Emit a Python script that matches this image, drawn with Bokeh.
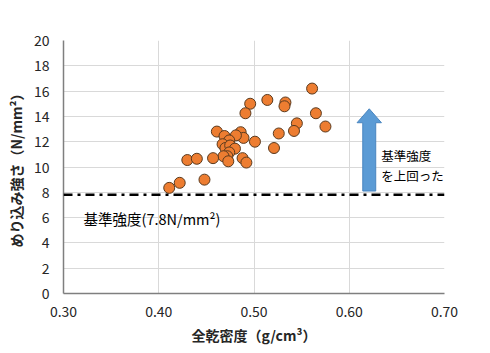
from bokeh.plotting import figure
from bokeh.models import FixedTicker, Range1d, Span, Label
from bokeh.embed import file_html
from bokeh.resources import INLINE

# data
density = [0.561, 0.514, 0.533, 0.532, 0.496, 0.491, 0.565, 0.545, 0.542, 0.575,
           0.526, 0.521, 0.501, 0.461, 0.469, 0.486, 0.489, 0.481, 0.474, 0.467,
           0.470, 0.475, 0.480, 0.474, 0.472, 0.468, 0.473, 0.457, 0.488, 0.492,
           0.430, 0.440, 0.448, 0.422, 0.411]
strength = [16.2, 15.3, 15.1, 14.8, 15.0, 14.25, 14.25, 13.45, 12.85, 13.2,
            12.65, 11.5, 12.0, 12.8, 12.45, 12.75, 12.3, 12.5, 12.1, 11.8,
            11.5, 11.7, 11.45, 11.15, 10.85, 10.85, 10.45, 10.7, 10.7, 10.35,
            10.55, 10.65, 9.0, 8.75, 8.35]
x_ticks = [0.30, 0.40, 0.50, 0.60, 0.70]
x_tick_labels = ["0.30", "0.40", "0.50", "0.60", "0.70"]
y_ticks = [0, 2, 4, 6, 8, 10, 12, 14, 16, 18, 20]
standard_strength = 7.8
standard_label = "基準強度(7.8N/mm²)"
arrow_label_lines = ["基準強度", "を上回った"]

# annotation geometry (data units)
arrow_x = 0.621
arrow_bottom = 8.1
arrow_top = 14.6
arrow_head_base = 13.5
arrow_half_shaft = 0.0068
arrow_half_head = 0.0128

FONT = "Noto Sans CJK JP"

p = figure(width=490, height=353, output_backend="svg", toolbar_location=None,
           x_range=Range1d(0.30, 0.70), y_range=Range1d(0, 20),
           min_border_left=63, min_border_right=46, min_border_top=40,
           min_border_bottom=60)
p.outline_line_color = None
p.background_fill_color = "white"
p.border_fill_color = "white"

p.xaxis.ticker = FixedTicker(ticks=x_ticks)
p.xaxis.major_label_overrides = {t: l for t, l in zip(x_ticks, x_tick_labels)}
p.yaxis.ticker = FixedTicker(ticks=y_ticks)
p.xgrid.ticker = FixedTicker(ticks=x_ticks)
p.ygrid.ticker = FixedTicker(ticks=y_ticks)

for ax in (p.xaxis, p.yaxis):
    ax.axis_line_color = "#7f7f7f"
    ax.axis_line_width = 1.5
    ax.major_tick_line_color = None
    ax.minor_tick_line_color = None
    ax.major_label_text_font = FONT
    ax.major_label_text_font_size = "14px"
    ax.major_label_text_color = "#262626"
    ax.axis_label_text_font = FONT
    ax.axis_label_text_font_size = "14px"
    ax.axis_label_text_font_style = "bold"
    ax.axis_label_text_color = "#262626"

p.xaxis.axis_label = "全乾密度（g/cm³）"
p.yaxis.axis_label = "めり込み強さ（N/mm²）"
p.xaxis.major_label_standoff = 6
p.yaxis.major_label_standoff = 8
p.xaxis.axis_label_standoff = 5
p.yaxis.axis_label_standoff = 5

p.xgrid.grid_line_color = "#d9d9d9"
p.ygrid.grid_line_color = "#d9d9d9"
p.xgrid.grid_line_width = 1
p.ygrid.grid_line_width = 1

# standard strength line
p.add_layout(Span(location=standard_strength, dimension="width",
                  line_color="black", line_width=2.5, line_dash="9 5 3 5"))

p.scatter(density, strength, size=11, fill_color="#ed7d31",
          line_color="#5a3a1e", line_width=1)

# block arrow
ax_pts = [arrow_x - arrow_half_shaft, arrow_x + arrow_half_shaft,
          arrow_x + arrow_half_shaft, arrow_x + arrow_half_head, arrow_x,
          arrow_x - arrow_half_head, arrow_x - arrow_half_shaft]
ay_pts = [arrow_bottom, arrow_bottom, arrow_head_base, arrow_head_base,
          arrow_top, arrow_head_base, arrow_head_base]
p.patch(ax_pts, ay_pts, fill_color="#5b9bd5", line_color="#4a86c0", line_width=1)

for txt, yv in zip(arrow_label_lines, [10.9, 9.3]):
    p.add_layout(Label(x=0.6335, y=yv, text=txt, level="overlay",
                       text_font=FONT, text_font_size="12.5px", text_color="black",
                       text_baseline="middle"))
p.add_layout(Label(x=0.321, y=5.95, text=standard_label, level="overlay",
                   text_font=FONT, text_font_size="14.5px", text_color="black",
                   text_baseline="middle"))

open("out.html", "w").write(file_html(p, INLINE))
